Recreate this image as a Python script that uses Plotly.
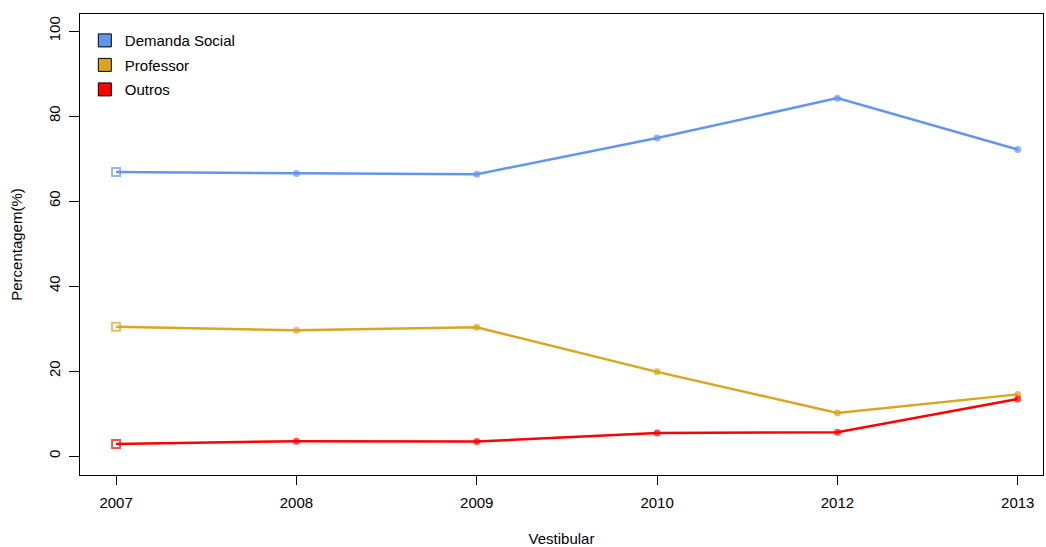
import plotly.graph_objects as go

years = ["2007", "2008", "2009", "2010", "2012", "2013"]
demanda_social = [66.8, 66.5, 66.3, 74.8, 84.2, 72.1]
professor = [30.4, 29.6, 30.3, 19.8, 10.1, 14.5]
outros = [2.8, 3.5, 3.4, 5.4, 5.6, 13.4]

series = [
    ("Demanda Social", demanda_social, "#6495ED"),
    ("Professor", professor, "#DAA520"),
    ("Outros", outros, "#FF0000"),
]

xs = list(range(len(years)))
fig = go.Figure()
for i, (name, vals, col) in enumerate(series):
    symbols = ["square-open"] + ["circle"] * (len(vals) - 1)
    sizes = [8] + [5] * (len(vals) - 1)
    fig.add_trace(go.Scatter(
        x=xs, y=vals, mode="lines+markers", name=name, showlegend=False,
        line=dict(color=col, width=2.5),
        marker=dict(symbol=symbols, size=sizes, color=col, line=dict(color=col, width=2)),
    ))
for i, (name, vals, col) in enumerate(series):
    fig.add_trace(go.Scatter(
        x=[None], y=[None], mode="markers", name=name, legendgroup=name,
        marker=dict(symbol="square", size=13, color=col, line=dict(color="black", width=1)),
    ))

fig.update_layout(
    width=1046, height=547,
    margin=dict(l=80, r=3, t=14, b=72),
    plot_bgcolor="white", paper_bgcolor="white",
    font=dict(family="Liberation Sans, Arial, sans-serif", size=15, color="black"),
    legend=dict(x=0.005, y=0.978, xanchor="left", yanchor="top", bgcolor="rgba(0,0,0,0)",
                tracegroupgap=2, font=dict(size=15)),
    xaxis=dict(
        range=[-0.2, 5.14], tickvals=xs, ticktext=years, showgrid=False, zeroline=False,
        showline=True, mirror=True, linecolor="black", linewidth=1, automargin=False,
        ticks="outside", ticklen=9, tickcolor="black", ticklabelstandoff=5,
        title=dict(text="Vestibular", standoff=23, font=dict(size=15)),
        tickfont=dict(size=15),
    ),
    yaxis=dict(
        range=[-4.47, 104], tickvals=[0, 20, 40, 60, 80, 100], showgrid=False, zeroline=False,
        showline=True, mirror=True, linecolor="black", linewidth=1, automargin=False,
        ticks="outside", ticklen=10, tickcolor="black", tickangle=-90, ticklabelstandoff=3,
        title=dict(text="Percentagem(%)", standoff=19, font=dict(size=15)),
        tickfont=dict(size=15),
    ),
)
fig.write_html("out.html")
